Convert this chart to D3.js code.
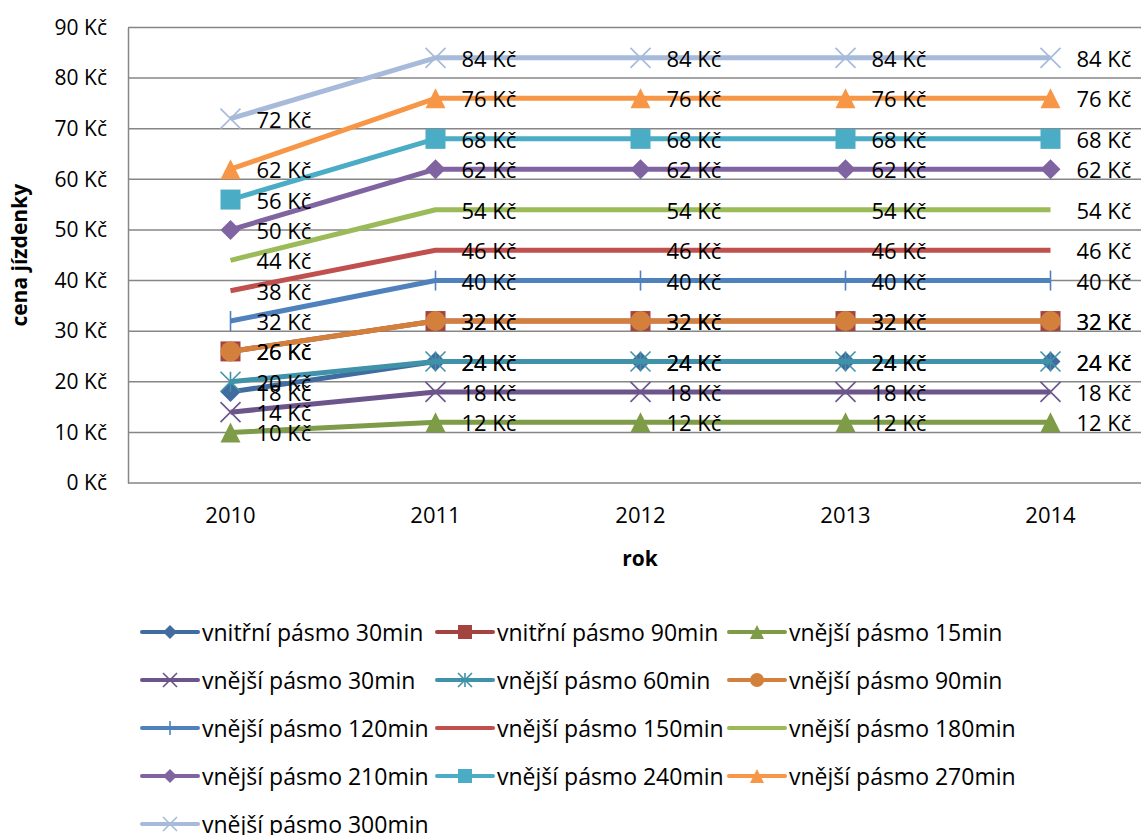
<!DOCTYPE html>
<html>
<head>
<meta charset="utf-8">
<script src="https://cdn.jsdelivr.net/npm/d3@7"></script>
<style>
  body { margin: 0; background: #fff; }
  text { font-family: "Open Sans", "Noto Sans", sans-serif; fill: #000; }
</style>
</head>
<body>
<div id="chart"></div>
<script>
// chart data
const years = ["2010", "2011", "2012", "2013", "2014"];
const seriesNames = [
    "vnitřní pásmo 30min", "vnitřní pásmo 90min", "vnější pásmo 15min",
    "vnější pásmo 30min", "vnější pásmo 60min", "vnější pásmo 90min",
    "vnější pásmo 120min", "vnější pásmo 150min", "vnější pásmo 180min",
    "vnější pásmo 210min", "vnější pásmo 240min", "vnější pásmo 270min",
    "vnější pásmo 300min"
];
const seriesValues = [
    [18, 24, 24, 24, 24],
    [26, 32, 32, 32, 32],
    [10, 12, 12, 12, 12],
    [14, 18, 18, 18, 18],
    [20, 24, 24, 24, 24],
    [26, 32, 32, 32, 32],
    [32, 40, 40, 40, 40],
    [38, 46, 46, 46, 46],
    [44, 54, 54, 54, 54],
    [50, 62, 62, 62, 62],
    [56, 68, 68, 68, 68],
    [62, 76, 76, 76, 76],
    [72, 84, 84, 84, 84]
];
const seriesColors = [
    "#406ca0", "#a34441", "#7e9b48", "#6c558a", "#3f92a8", "#d2803c",
    "#4f81bd", "#c0504d", "#9bbb59", "#8064a2", "#4bacc6", "#f79646",
    "#a7bad9"
];
const seriesMarkers = [
    "diamond", "square", "triangle", "x", "star", "circle",
    "plus", "none", "none", "diamond", "square", "triangle", "x"
];
const yTicks = [0, 10, 20, 30, 40, 50, 60, 70, 80, 90];

const W = 1141, H = 835;
const plotLeft = 128, plotTop = 27.5, plotBottom = 483, bandW = 205;

let svg = d3.select("#chart").append("svg").attr("width",W).attr("height",H);

let x = d3.scaleBand().domain(years).range([plotLeft, plotLeft+bandW*years.length]).padding(0);
let y = d3.scaleLinear().domain([0, 90]).range([plotBottom, plotTop]);
let cx = d => x(d) + x.bandwidth()/2;

// grid
svg.append("g").selectAll("line").data(yTicks.filter(t => t > 0)).enter().append("line")
    .attr("x1",plotLeft).attr("x2",W).attr("y1",d => y(d)).attr("y2",d => y(d))
    .attr("stroke","#868686").attr("stroke-width",1.5);

// axes
let yAxis = d3.axisLeft(y).tickValues(yTicks).tickFormat(d => d+" Kč").tickSize(0).tickPadding(21);
let gy = svg.append("g").attr("transform","translate("+plotLeft+",0)").call(yAxis);
gy.select(".domain").attr("stroke","#868686").attr("stroke-width",1.5);
gy.selectAll("text").attr("font-size",21).attr("font-family","Open Sans");

let xAxis = d3.axisBottom(x).tickSize(0).tickPadding(24);
let gx = svg.append("g").attr("transform","translate(0,"+plotBottom+")").call(xAxis);
gx.select(".domain").attr("d","M"+plotLeft+",0H"+W).attr("stroke","#868686").attr("stroke-width",1.5);
gx.selectAll("text").attr("font-size",22).attr("font-family","Open Sans");

// axis titles
svg.append("text").attr("x",640).attr("y",558).attr("text-anchor","middle")
    .attr("dominant-baseline","central").attr("font-size",21).attr("font-weight","bold").text("rok");
svg.append("text").attr("transform","translate(19,"+((plotTop+plotBottom)/2)+") rotate(-90)")
    .attr("text-anchor","middle").attr("dominant-baseline","central")
    .attr("font-size",21).attr("font-weight","bold").text("cena jízdenky");

function drawMarker(g, type, color, s) {
    let h = s/2;
    if(type === "diamond") {
        g.append("path").attr("d","M0,"+(-h)+"L"+h+",0L0,"+h+"L"+(-h)+",0Z").attr("fill",color);
    } else if(type === "square") {
        g.append("rect").attr("x",-h).attr("y",-h).attr("width",s).attr("height",s).attr("fill",color);
    } else if(type === "triangle") {
        g.append("path").attr("d","M0,"+(-h)+"L"+h+","+h+"L"+(-h)+","+h+"Z").attr("fill",color);
    } else if(type === "circle") {
        g.append("circle").attr("r",h).attr("fill",color);
    } else if(type === "x" || type === "star" || type === "plus") {
        let p = "";
        if(type !== "plus") p += "M"+(-h)+","+(-h)+"L"+h+","+h+"M"+h+","+(-h)+"L"+(-h)+","+h;
        if(type !== "x") p += "M0,"+(-h)+"L0,"+h;
        g.append("path").attr("d",p).attr("stroke",color).attr("stroke-width",1.6).attr("fill","none");
    }
}

// series
let line = d3.line().x(d => cx(d.year)).y(d => y(d.value));
seriesValues.forEach((vals, i) => {
    let pts = vals.map((v, j) => ({year: years[j], value: v}));
    let g = svg.append("g");
    g.append("path").datum(pts).attr("d",line).attr("fill","none")
        .attr("stroke",seriesColors[i]).attr("stroke-width",5).attr("stroke-linejoin","round");
    if(seriesMarkers[i] !== "none") {
        pts.forEach(p => {
            let m = g.append("g").attr("transform","translate("+cx(p.year)+","+y(p.value)+")");
            drawMarker(m, seriesMarkers[i], seriesColors[i], 20);
        });
    }
});

// data labels
seriesValues.forEach((vals, i) => {
    svg.append("g").selectAll("text").data(vals).enter().append("text")
        .attr("x",(d, j) => cx(years[j]) + 26).attr("y",d => y(d))
        .attr("dominant-baseline","central").attr("font-size",22)
        .text(d => d+" Kč");
});

// legend
let legend = svg.append("g");
let colX = [142, 437, 729];
seriesNames.forEach((name, i) => {
    let lx = colX[i % 3], ly = 632 + 48*Math.floor(i/3);
    let g = legend.append("g").attr("transform","translate("+lx+","+ly+")");
    g.append("line").attr("x1",0).attr("x2",56).attr("y1",0).attr("y2",0)
        .attr("stroke",seriesColors[i]).attr("stroke-width",4).attr("stroke-linecap","round");
    if(seriesMarkers[i] !== "none") {
        let m = g.append("g").attr("transform","translate(28,0)");
        drawMarker(m, seriesMarkers[i], seriesColors[i], 14);
    }
    g.append("text").attr("x",60).attr("y",0).attr("dominant-baseline","central")
        .attr("font-size",23).text(name);
});
</script>
</body>
</html>
